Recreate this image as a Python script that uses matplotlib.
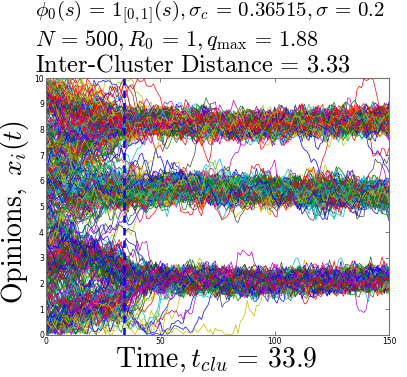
import numpy as np
import matplotlib
matplotlib.use("Agg")
import matplotlib.pyplot as plt

# model parameters shown in the title
N = 500
L = 10.0
R0 = 1.0
sigma = 0.2
sigma_c = 0.36515
q_max = 1.88
inter_cluster = 3.33
t_clu = 33.9
T_end = 150
seed = 21

x_ticks = [0, 50, 100, 150]
y_ticks = list(range(0, 11))

# MATLAB-style line colour order
line_colors = [(0, 0, 1), (0, 0.5, 0), (1, 0, 0), (0, 0.75, 0.75),
               (0.75, 0, 0.75), (0.75, 0.75, 0), (0.25, 0.25, 0.25)]


def simulate():
    """Noisy bounded-confidence opinion model (indicator kernel, reflecting walls)."""
    dt = 0.02
    rng = np.random.default_rng(seed)
    x = rng.uniform(0, L, N)
    out = [x.copy()]
    spr = int(round(1 / dt))
    for k in range(int(T_end / dt)):
        xs = np.sort(x)
        S = np.concatenate([[0], np.cumsum(xs)])
        lo = np.searchsorted(xs, x - R0, 'left')
        hi = np.searchsorted(xs, x + R0, 'right')
        drift = (S[hi] - S[lo] - (hi - lo) * x) / N
        x = x + drift * dt + sigma * np.sqrt(dt) * rng.standard_normal(N)
        x = np.abs(x)
        x = np.where(x > L, 2 * L - x, x)
        if (k + 1) % spr == 0:
            out.append(x.copy())
    return np.array(out)


X = simulate()
t = np.arange(X.shape[0])

W, H = 407, 377
plt.rcParams['mathtext.fontset'] = 'cm'
fig = plt.figure(figsize=(W / 100, H / 100), dpi=100)
ax = fig.add_axes([46 / W, 1 - 335 / H, 343 / W, 257 / H])
ax.set_prop_cycle(color=line_colors)
ax.plot(t, X, lw=0.5)
ax.axvline(t_clu, color=(0, 0, 1), lw=1.8, ls=(0, (3, 2)))

ax.set_xlim(0, T_end)
ax.set_ylim(0, L)
ax.set_xticks(x_ticks)
ax.set_yticks(y_ticks)
ax.tick_params(direction='in', top=True, right=True, labelsize=5.5,
               length=3, width=0.6, color='0.4', pad=1.5)
for s in ax.spines.values():
    s.set_color('0.45')
    s.set_linewidth(0.8)

EQ = r"\,=\,"
lines = [
    (r"$\phi_0(s)" + EQ + r"\mathbf{1}_{[0,1]}(s), \sigma_c" + EQ + "%.5f" % sigma_c
     + r", \sigma" + EQ + "%.1f$" % sigma, 15.0),
    (r"$N" + EQ + "%d, R_0" % N + EQ + "%d, q_{\\max}" % R0 + EQ + "%.2f$" % q_max, 16),
    (r"$\mathrm{Inter\text{-}Cluster\ Distance}" + EQ + "%.2f$" % inter_cluster, 17.6),
]
for (txt, fs), yb in zip(lines, [17, 46, 71]):
    fig.text(35 / W, 1 - yb / H, txt, ha='left', va='baseline', fontsize=fs)

fig.text(216 / W, 1 - 367 / H, r"$\mathrm{Time}, t_{clu}" + EQ + "%.1f$" % t_clu,
         ha='center', va='baseline', fontsize=20)
fig.text(15 / W, 1 - 212 / H, r"$\mathrm{Opinions},\ x_i(t)$", ha='center',
         va='center', rotation=90, fontsize=20)

fig.savefig("out.png", dpi=100)
